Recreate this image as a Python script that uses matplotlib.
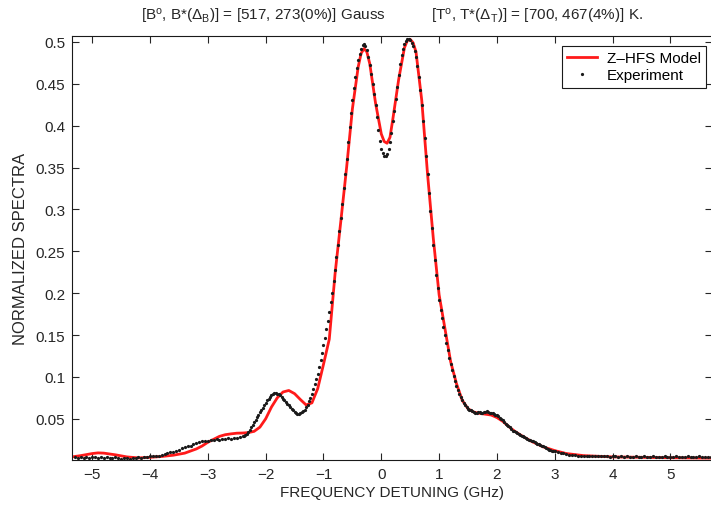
import numpy as np
import matplotlib
matplotlib.use('Agg')
import matplotlib.pyplot as plt

plt.rcParams['font.family'] = ['Liberation Sans', 'DejaVu Sans']
plt.rcParams['mathtext.fontset'] = 'custom'
plt.rcParams['mathtext.rm'] = 'Liberation Sans'
plt.rcParams['mathtext.it'] = 'Liberation Sans:italic'

# Z-HFS model curve (GHz, normalized)
model_x = [-5.35, -5.2, -5.0, -4.9, -4.8, -4.6, -4.4, -4.2, -4.0, -3.8,
           -3.6, -3.4, -3.3, -3.2, -3.1, -3.0, -2.9, -2.8, -2.7, -2.6,
           -2.5, -2.4, -2.3, -2.2, -2.1, -2.0, -1.9, -1.8, -1.7, -1.6,
           -1.5, -1.4, -1.3, -1.2, -1.1, -1.0, -0.9, -0.8, -0.7, -0.6,
           -0.5, -0.4, -0.35, -0.3, -0.25, -0.2, -0.1, 0.0, 0.05, 0.1,
           0.15, 0.2, 0.3, 0.4, 0.45, 0.5, 0.55, 0.6, 0.7, 0.8,
           0.9, 1.0, 1.1, 1.2, 1.3, 1.4, 1.5, 1.6, 1.7, 1.8,
           1.9, 2.0, 2.1, 2.2, 2.3, 2.4, 2.6, 2.8, 3.0, 3.2,
           3.5, 4.0, 4.5, 5.0, 5.7]
model_y = [0.0045, 0.0060, 0.0085, 0.0093, 0.0090, 0.0070, 0.0045, 0.0033, 0.0040, 0.0050,
           0.0065, 0.0090, 0.0115, 0.0140, 0.0175, 0.0220, 0.0255, 0.0290, 0.0310, 0.0320,
           0.0328, 0.0330, 0.0335, 0.0350, 0.0400, 0.0500, 0.0640, 0.0750, 0.0820, 0.0838,
           0.0800, 0.0730, 0.0665, 0.0690, 0.0860, 0.1150, 0.1450, 0.2230, 0.2860, 0.3500,
           0.4200, 0.4700, 0.4860, 0.4920, 0.4880, 0.4740, 0.4270, 0.3900, 0.3810, 0.3790,
           0.3860, 0.4080, 0.4550, 0.4930, 0.5015, 0.5030, 0.4990, 0.4880, 0.4300, 0.3420,
           0.2650, 0.1980, 0.1580, 0.1180, 0.0920, 0.0720, 0.0620, 0.0580, 0.0565, 0.0555,
           0.0545, 0.0515, 0.0470, 0.0410, 0.0355, 0.0310, 0.0230, 0.0165, 0.0120, 0.0085,
           0.0060, 0.0045, 0.0040, 0.0035, 0.0030]

# measured spectrum, sampled every 0.05 GHz from -5.30 to 5.70
exp_y = [0.004, 0.003, 0.004, 0.003, 0.004, 0.003, 0.004, 0.004, 0.003, 0.004,
         0.003, 0.004, 0.003, 0.003, 0.004, 0.003, 0.002, 0.003, 0.003, 0.002,
         0.003, 0.003, 0.004, 0.003, 0.004, 0.004, 0.005, 0.005, 0.006, 0.006,
         0.007, 0.008, 0.009, 0.010, 0.010, 0.012, 0.013, 0.015, 0.016, 0.017,
         0.018, 0.020, 0.021, 0.022, 0.023, 0.024, 0.024, 0.025, 0.025, 0.026,
         0.025, 0.026, 0.026, 0.027, 0.026, 0.027, 0.027, 0.028, 0.029, 0.031,
         0.034, 0.040, 0.046, 0.052, 0.058, 0.063, 0.069, 0.074, 0.078, 0.081,
         0.080, 0.078, 0.074, 0.070, 0.066, 0.062, 0.058, 0.056, 0.057, 0.059,
         0.064, 0.071, 0.080, 0.091, 0.104, 0.120, 0.138, 0.157, 0.178, 0.200,
         0.228, 0.258, 0.290, 0.325, 0.360, 0.398, 0.430, 0.458, 0.478, 0.492,
         0.497, 0.490, 0.472, 0.450, 0.425, 0.395, 0.372, 0.364, 0.366, 0.380,
         0.405, 0.432, 0.460, 0.484, 0.498, 0.503, 0.502, 0.495, 0.482, 0.458,
         0.425, 0.385, 0.342, 0.298, 0.258, 0.222, 0.192, 0.170, 0.150, 0.132,
         0.115, 0.101, 0.089, 0.080, 0.072, 0.066, 0.062, 0.060, 0.058, 0.057,
         0.058, 0.057, 0.058, 0.058, 0.057, 0.056, 0.054, 0.051, 0.048, 0.044,
         0.041, 0.038, 0.035, 0.033, 0.031, 0.029, 0.027, 0.025, 0.024, 0.022,
         0.020, 0.019, 0.017, 0.015, 0.013, 0.012, 0.011, 0.010, 0.009, 0.009,
         0.008, 0.007, 0.007, 0.007, 0.006, 0.006, 0.006, 0.005, 0.006, 0.005,
         0.005, 0.005, 0.006, 0.005, 0.005, 0.004, 0.005, 0.005, 0.004, 0.005,
         0.004, 0.005, 0.004, 0.004, 0.005, 0.004, 0.004, 0.005, 0.004, 0.004,
         0.005, 0.004, 0.004, 0.004, 0.005, 0.004, 0.004, 0.004, 0.005, 0.004,
         0.004, 0.004, 0.005, 0.004, 0.004, 0.004, 0.005, 0.004, 0.004, 0.004,
         0.004]
exp_x = np.round(np.arange(len(exp_y)) * 0.05 - 5.30, 2)

# extra measured samples, offset by half a step, from -2.375 to 2.975 GHz
exp2_y = [0.030, 0.032, 0.037, 0.043, 0.049, 0.055, 0.061, 0.066, 0.072, 0.076,
          0.080, 0.081, 0.079, 0.076, 0.072, 0.068, 0.064, 0.060, 0.057, 0.056,
          0.058, 0.061, 0.067, 0.075, 0.085, 0.097, 0.112, 0.129, 0.147, 0.167,
          0.189, 0.214, 0.243, 0.274, 0.307, 0.342, 0.380, 0.415, 0.445, 0.469,
          0.486, 0.496, 0.495, 0.482, 0.462, 0.438, 0.410, 0.382, 0.367, 0.364,
          0.372, 0.391, 0.418, 0.446, 0.473, 0.492, 0.501, 0.503, 0.499, 0.489,
          0.471, 0.442, 0.405, 0.364, 0.320, 0.278, 0.240, 0.206, 0.180, 0.160,
          0.141, 0.123, 0.108, 0.095, 0.084, 0.076, 0.069, 0.064, 0.061, 0.059,
          0.057, 0.058, 0.057, 0.058, 0.059, 0.057, 0.057, 0.055, 0.053, 0.050,
          0.046, 0.043, 0.040, 0.036, 0.034, 0.032, 0.030, 0.028, 0.026, 0.025,
          0.023, 0.021, 0.020, 0.018, 0.016, 0.014, 0.013, 0.012]
exp2_x = np.round(np.arange(len(exp2_y)) * 0.05 - 2.375, 3)

x_ticks = [-5, -4, -3, -2, -1, 0, 1, 2, 3, 4, 5]
y_ticks = [0.05, 0.1, 0.15, 0.2, 0.25, 0.3, 0.35, 0.4, 0.45, 0.5]
y_ticklabels = ['0.05', '0.1', '0.15', '0.2', '0.25', '0.3', '0.35', '0.4', '0.45', '0.5']

title = (r'[B$^{\rm o}$, B*($\Delta_{\rm B}$)] = [517, 273(0%)] Gauss'
         r'           [T$^{\rm o}$, T*($\Delta_{\rm T}$)] = [700, 467(4%)] K.')

all_x = np.concatenate([exp_x, exp2_x])
all_y = np.concatenate([exp_y, exp2_y])
order = np.argsort(all_x)

fig = plt.figure(figsize=(7.11, 5.10), dpi=100)
ax = fig.add_axes([72 / 711, 49 / 510, 640 / 711, 424 / 510])

ax.plot(model_x, model_y, color='#ff1a1a', lw=2.0, label='Z\u2013HFS Model', zorder=2)
ax.plot(all_x[order], all_y[order], ls='none', marker='.', ms=2.6, color='#1a1a1a',
        label='Experiment', zorder=3)

ax.set_xlim(-5.35, 5.72)
ax.set_ylim(0.0008, 0.507)
ax.set_xticks(x_ticks)
ax.set_xticklabels([str(t).replace('-', '\u2212') for t in x_ticks])
ax.set_yticks(y_ticks)
ax.set_yticklabels(y_ticklabels)
ax.tick_params(direction='in', top=True, right=True, length=5, width=0.8,
               labelsize=11, colors='#262626', pad=5)
for s in ax.spines.values():
    s.set_linewidth(0.8)
    s.set_color('#1a1a1a')

ax.set_xlabel('FREQUENCY DETUNING (GHz)', fontsize=11, color='#262626', labelpad=3)
ax.set_ylabel('NORMALIZED SPECTRA', fontsize=12, color='#262626', labelpad=5)
ax.set_title(title, fontsize=11, color='#262626', pad=12)

leg = ax.legend(loc='upper right', fontsize=11, frameon=True, fancybox=False,
                edgecolor='#1a1a1a', framealpha=1, borderpad=0.35,
                handlelength=2.0, handletextpad=0.6, labelspacing=0.2,
                borderaxespad=0.0, markerscale=1.0,
                bbox_to_anchor=(634 / 640, 414 / 424))
leg.get_frame().set_linewidth(0.8)

fig.savefig('out.png', dpi=100)
